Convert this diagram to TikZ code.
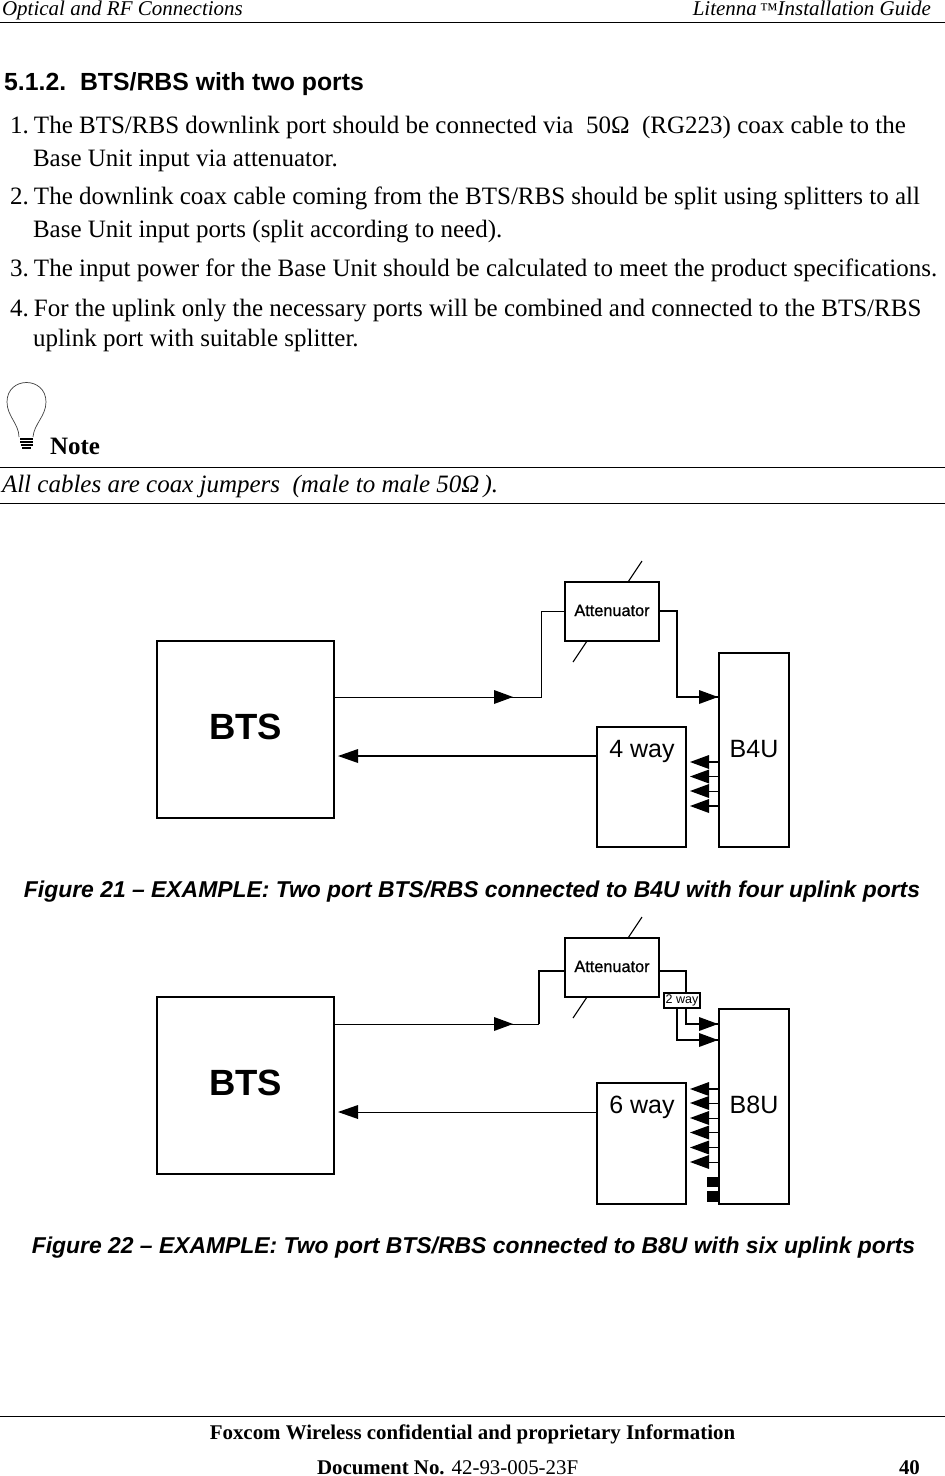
\documentclass[tikz,border=0pt]{standalone}
\usepackage{fontspec}
\setmainfont{Liberation Serif}
\newfontfamily\arialf{Liberation Sans}
\newfontfamily\attf{Liberation Sans}[RawFeature={embolden=1.0}]
\usetikzlibrary{arrows.meta}
\tikzset{
 txt/.style={anchor=base west,inner sep=0pt,outer sep=0pt,font=\fontsize{25}{28}\selectfont},
 box/.style={draw=black,line width=1.6pt,fill=white,inner sep=0pt,outer sep=0pt,anchor=north west},
 rule/.style={line width=1pt},
 wire/.style={line width=1.2pt},
 tri/.style={fill=black,draw=none},
 sect/.style={anchor=base west,inner sep=0pt,font=\arialf\bfseries\fontsize{24.8}{28}\selectfont},
 capt/.style={anchor=base,inner sep=0pt,font=\arialf\bfseries\itshape\fontsize{22.9}{26}\selectfont},
 blab/.style={anchor=base,inner sep=0pt,font=\arialf\fontsize{25}{28}\selectfont},
 attl/.style={inner sep=0pt,font=\attf\fontsize{16.3}{20}\selectfont},
 btsl/.style={inner sep=0pt,font=\arialf\bfseries\fontsize{36.5}{40}\selectfont},
}
\begin{document}
\begin{tikzpicture}[x=1pt,y=-1pt]
\useasboundingbox (0,0) rectangle (945,1476);
\fill[white] (0,0) rectangle (945,1476);
% header
\node[txt,font=\itshape\fontsize{21}{26}\selectfont] (h1) at (2,15) {Optical and RF Connections};
\node[txt,anchor=base east,font=\itshape\fontsize{21}{26}\selectfont] (h2) at (931,15) {Litenna\kern3pt{\fontsize{18}{26}\selectfont\texttrademark}Installation Guide};
\draw[rule] (0,22) -- (945,22);
\node[sect] (sec) at (4,90) {5.1.2.\ \ BTS/RBS with two ports};
\node[txt] (n1) at (10,133) {1.};
\node[txt] (t1) at (34,133) {The BTS/RBS downlink port should be connected via\ \ 50Ω\ \ (RG223) coax cable to the};
\node[txt] (t1b) at (33,166) {Base Unit input via attenuator.};
\node[txt] (n2) at (10,204) {2.};
\node[txt] (t2) at (34,204) {The downlink coax cable coming from the BTS/RBS should be split using splitters to all};
\node[txt] (t2b) at (33,237) {Base Unit input ports (split according to need).};
\node[txt] (n3) at (10,276) {3.};
\node[txt] (t3) at (34,276) {The input power for the Base Unit should be calculated to meet the product specifications.};
\node[txt] (n4) at (10,316) {4.};
\node[txt] (t4) at (34,316) {For the uplink only the necessary ports will be combined and connected to the BTS/RBS};
\node[txt] (t4b) at (33,346) {uplink port with suitable splitter.};
\node[txt,font=\bfseries\fontsize{25}{28}\selectfont] (note) at (50,454) {Note};
\draw[rule] (0,467) -- (945,467);
\node[txt,font=\itshape\fontsize{25}{28}\selectfont] (allc) at (2,492) {All cables are coax jumpers\ \ (male to male 50Ω\,).};
\draw[rule] (0,503) -- (945,503);
% bulb
\draw[line width=.7pt,black!75] (19,437) .. controls (19,424) and (7,416) .. (7,402) .. controls (7,376) and (46,376) .. (46,402) .. controls (46,416) and (34,424) .. (33,437);
\foreach \a/\b/\y in {20/33/439,20/33/442,20.5/32.5/445,22/31/448}{\draw[line width=2.2pt] (\a,\y) -- (\b,\y);}
% Figure 21
\node[box,minimum width=177pt,minimum height=177pt] (bts1) at (157,641) {};
\node[btsl] (bl1) at (245.5,727) {BTS};
\draw[line width=1.1pt] (642,561) -- (628,582);
\draw[line width=1.1pt] (587,641) -- (573,662);
\node[box,minimum width=94pt,minimum height=59pt] (att1) at (565,582) {};
\node[attl] (al1) at (612,610.5) {Attenuator};
\node[box,minimum width=70pt,minimum height=194pt] (b4u) at (719,653) {};
\node[blab] (bl4) at (754,757.5) {B4U};
\node[box,minimum width=89pt,minimum height=120pt] (w4) at (597,727) {};
\node[blab] (wl4) at (642,757.5) {4 way};
\draw[line width=.9pt] (bts1.east |- 0,697) -- (541,697) -- (541,611) -- (att1.west |- 0,611);
\draw[wire] (att1.east |- 0,611) -- (677,611) -- (677,697) -- (b4u.west |- 0,697);
\fill[tri] (494,690) -- (513,697) -- (494,704) -- cycle;
\fill[tri] (699,690) -- (718,697) -- (699,704) -- cycle;
\draw[wire] (w4.west |- 0,756) -- (350,756);
\fill[tri] (358,749) -- (338,756) -- (358,763) -- cycle;
\foreach \y/\w in {762/1.4,776.5/.8,791/.8,806/1.4}{
 \draw[line width=\w pt] (b4u.west |- 0,\y) -- (705,\y);
 \fill[tri] (709,\y-7) -- (690,\y) -- (709,\y+7) -- cycle;}
\node[capt] (c21) at (472,897) {Figure 21 – EXAMPLE: Two port BTS/RBS connected to B4U with four uplink ports};
% Figure 22
\node[box,minimum width=177pt,minimum height=177pt] (bts2) at (157,997) {};
\node[btsl] (bl2) at (245.5,1083) {BTS};
\draw[line width=1.1pt] (642,917) -- (628,938);
\draw[line width=1.1pt] (587,997) -- (573,1018);
\node[box,line width=1.3pt,minimum width=94pt,minimum height=59pt] (att2) at (565,938) {};
\node[attl] (al2) at (612,966.5) {Attenuator};
\node[box,line width=1.3pt,minimum width=70pt,minimum height=195pt] (b8u) at (719,1009) {};
\node[blab] (bl8) at (754,1113.5) {B8U};
\node[box,minimum width=89pt,minimum height=121pt] (w6) at (597,1083) {};
\node[blab] (wl6) at (642,1113.5) {6 way};
\draw[line width=.9pt] (bts2.east |- 0,1024) -- (539,1024);
\draw[wire] (539,1024) -- (539,971) -- (att2.west |- 0,971);
\draw[wire] (att2.east |- 0,971) -- (686,971) -- (686,1024) -- (b8u.west |- 0,1024);
\draw[wire] (677,1000) -- (677,1040) -- (b8u.west |- 0,1040);
\node[box,line width=1.3pt,minimum width=36pt,minimum height=15pt] (w2) at (664,993) {};
\node[attl,font=\arialf\fontsize{12.5}{14}\selectfont] (wl2) at (682,1000.5) {2 way};
\fill[tri] (494,1017) -- (513,1024) -- (494,1031) -- cycle;
\fill[tri] (699,1017) -- (718,1024) -- (699,1031) -- cycle;
\fill[tri] (699,1033) -- (718,1040) -- (699,1047) -- cycle;
\draw[line width=.9pt] (w6.west |- 0,1112) -- (350,1112);
\fill[tri] (358,1105) -- (338,1112) -- (358,1119) -- cycle;
\foreach \y/\w in {1089/1.4,1103/.8,1118/.8,1132.5/1.4,1147.5/1.4,1162/.8}{
 \draw[line width=\w pt] (b8u.west |- 0,\y) -- (705,\y);
 \fill[tri] (709,\y-7) -- (690,\y) -- (709,\y+7) -- cycle;}
\fill[black] (707,1177) rectangle (719,1187);
\fill[black] (707,1191) rectangle (719,1202);
\node[capt] (c22) at (473.5,1253) {Figure 22 – EXAMPLE: Two port BTS/RBS connected to B8U with six uplink ports};
% footer
\draw[rule] (0,1416) -- (945,1416);
\node[anchor=base,inner sep=0pt,font=\bfseries\fontsize{20.9}{26}\selectfont] (f1) at (472.5,1439) {Foxcom Wireless confidential and proprietary Information};
\node[txt,font=\fontsize{20.9}{26}\selectfont] (f2) at (317,1474) {\textbf{Document No.} 42-93-005-23F};
\node[txt,font=\bfseries\fontsize{20.9}{26}\selectfont] (f3) at (899,1474) {40};
\end{tikzpicture}
\end{document}
